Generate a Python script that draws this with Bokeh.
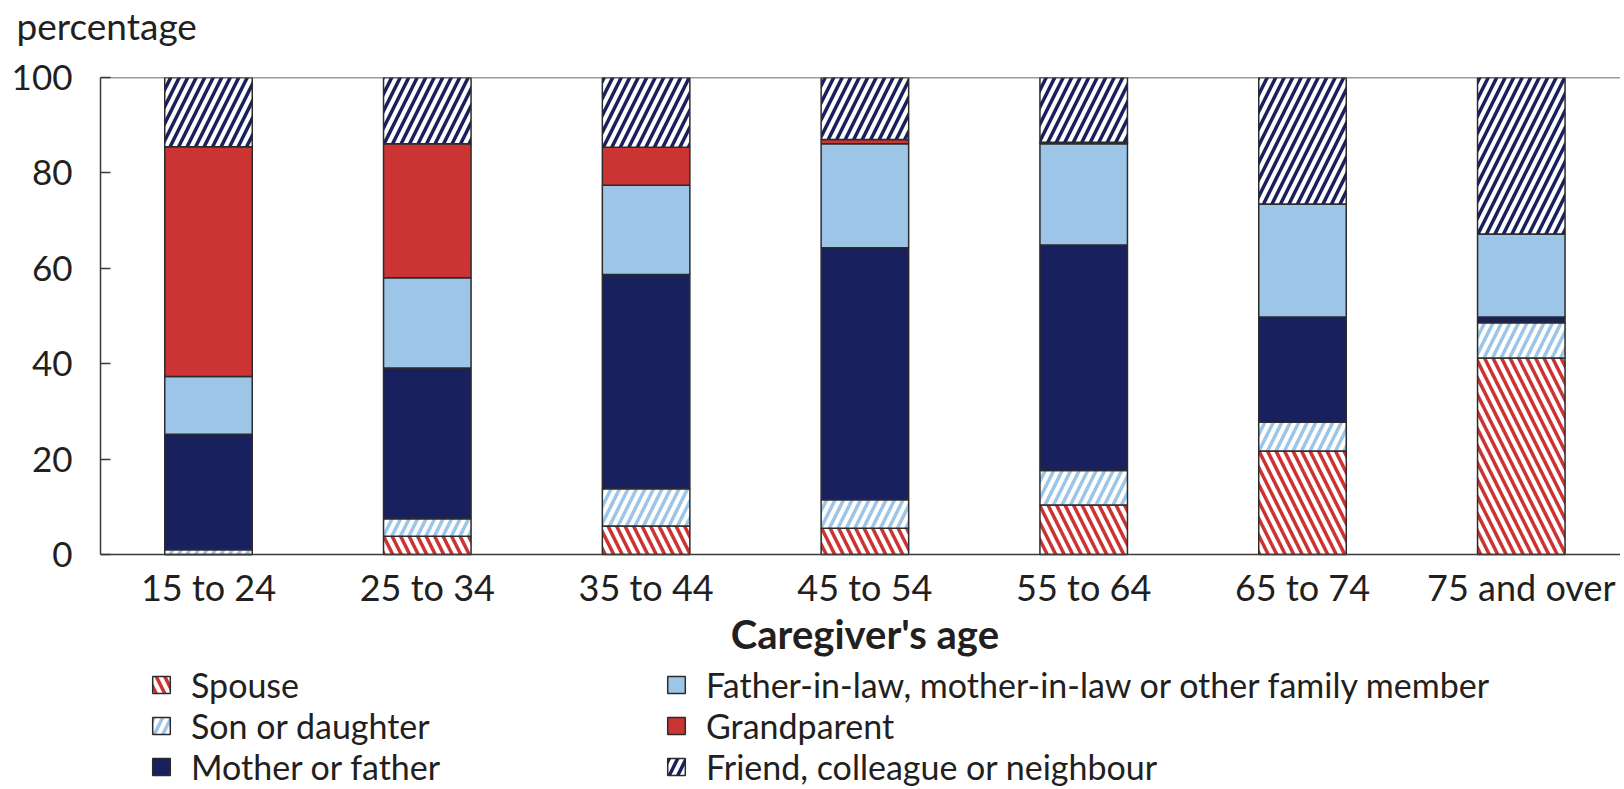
from bokeh.plotting import figure
from bokeh.models import (ColumnDataSource, Range1d, FixedTicker, Legend,
                          LegendItem, Span, Title, Label)
from bokeh.core.properties import value
from bokeh.embed import file_html
from bokeh.resources import INLINE

# ---- data (percentages) ----
categories = ["15 to 24", "25 to 34", "35 to 44", "45 to 54",
              "55 to 64", "65 to 74", "75 and over"]
spouse = [0.0, 3.8, 6.0, 5.5, 10.4, 21.7, 41.2]
son_daughter = [1.0, 3.7, 7.8, 6.0, 7.2, 6.0, 7.4]
mother_father = [24.2, 31.6, 44.9, 52.8, 47.3, 22.1, 1.2]
in_law_other = [12.1, 18.9, 18.7, 21.8, 21.2, 23.7, 17.4]
grandparent = [48.2, 28.1, 8.0, 0.9, 0.3, 0.0, 0.0]
friend = [14.5, 13.9, 14.6, 13.0, 13.6, 26.5, 32.8]
series_names = ["Spouse", "Son or daughter", "Mother or father",
                "Father-in-law, mother-in-law or other family member",
                "Grandparent", "Friend, colleague or neighbour"]
y_ticks = [0, 20, 40, 60, 80, 100]
x_title = "Caregiver's age"
y_title = "percentage"

# ---- styling / layout ----
FONT = "Lato"
TXT = "#231f20"
RED = "#cc3333"
LBLUE = "#9cc5e8"
NAVY = "#19205e"
FNAVY = "#1a1f5e"
OUTLINE = "#2b2b2b"
AXIS = "#3a3a3a"

W, H = 1620, 788
FRAME_LEFT, FRAME_TOP, BASE = 100, 77, 554       # page pixels
SLOT = 218.8                                     # px per category
UNIT = (BASE - FRAME_TOP) / 100.0                # px per percentage point
y_start = -(H - BASE) / UNIT
x_start = -108.0 / SLOT
x_end = x_start + (W - FRAME_LEFT) / SLOT


def y_at(page_y):
    return -(page_y - BASE) / UNIT


xs = list(range(len(categories)))
keys = ["spouse", "son", "mother", "inlaw", "grand", "friend"]
source = ColumnDataSource(dict(x=xs, spouse=spouse, son=son_daughter,
                               mother=mother_father, inlaw=in_law_other,
                               grand=grandparent, friend=friend))

p = figure(width=W, height=H,
           x_range=Range1d(x_start, x_end), y_range=Range1d(y_start, 100),
           output_backend="svg", toolbar_location=None,
           title_location=None, x_axis_location=None,
           min_border_left=FRAME_LEFT, min_border_right=0,
           min_border_top=FRAME_TOP, min_border_bottom=0,
           outline_line_color=None)

renderers = p.vbar_stack(
    keys, x="x", width=0.40, source=source,
    fill_color=["white", "white", NAVY, LBLUE, RED, "white"],
    hatch_pattern=["\\", "/", " ", " ", " ", "/"],
    hatch_color=[RED, LBLUE, NAVY, NAVY, NAVY, FNAVY],
    hatch_weight=3.5, hatch_scale=17,
    line_color=OUTLINE, line_width=1.5)

# frame lines: top and baseline
p.add_layout(Span(location=100, dimension="width", line_color=AXIS,
                  line_width=1.5))
p.add_layout(Span(location=0, dimension="width", line_color=AXIS,
                  line_width=1.5))

p.grid.grid_line_color = None

# y axis
p.yaxis.bounds = (0, 100)
p.yaxis.ticker = FixedTicker(ticks=y_ticks)
p.yaxis.major_tick_in = 10
p.yaxis.major_tick_out = 0
p.yaxis.minor_tick_line_color = None
p.yaxis.major_label_standoff = 28
p.yaxis.axis_line_color = AXIS
p.yaxis.axis_line_width = 1.5
p.yaxis.major_tick_line_color = AXIS
p.yaxis.major_tick_line_width = 1.5
p.yaxis.major_label_text_font = FONT
p.yaxis.major_label_text_font_size = "35px"
p.yaxis.major_label_text_color = TXT

# category labels under the bars and the x title
p.text(x=xs, y=[y_at(586)] * len(xs), text=categories,
       text_font=value(FONT), text_font_size=value("36px"),
       text_color=TXT, text_align="center", text_baseline="middle")
p.add_layout(Label(x=3, y=y_at(633), text=x_title,
                   text_font=FONT, text_font_size="40px",
                   text_font_style="bold", text_color=TXT,
                   text_align="center", text_baseline="middle"))

# spacer + "percentage" label at top-left (above the frame)
p.add_layout(Title(text=" ", text_font_size="1px", standoff=27), "above")
p.add_layout(Title(text=y_title, align="left", offset=-84, standoff=0,
                   text_font=FONT, text_font_size="37px",
                   text_font_style="normal", text_color=TXT), "above")


def make_legend(idx, loc):
    return Legend(
        items=[LegendItem(label=series_names[i], renderers=[renderers[i]])
               for i in idx],
        location=loc, orientation="vertical", padding=0, margin=0,
        spacing=0, glyph_width=22, glyph_height=21, label_standoff=19,
        border_line_alpha=0, background_fill_alpha=0,
        label_text_font=FONT, label_text_font_size="34px",
        label_text_color=TXT)


p.add_layout(make_legend([0, 1, 2], (50, 1)))
p.add_layout(make_legend([3, 4, 5], (565, 1)))

open("out.html", "w").write(file_html(p, INLINE))
